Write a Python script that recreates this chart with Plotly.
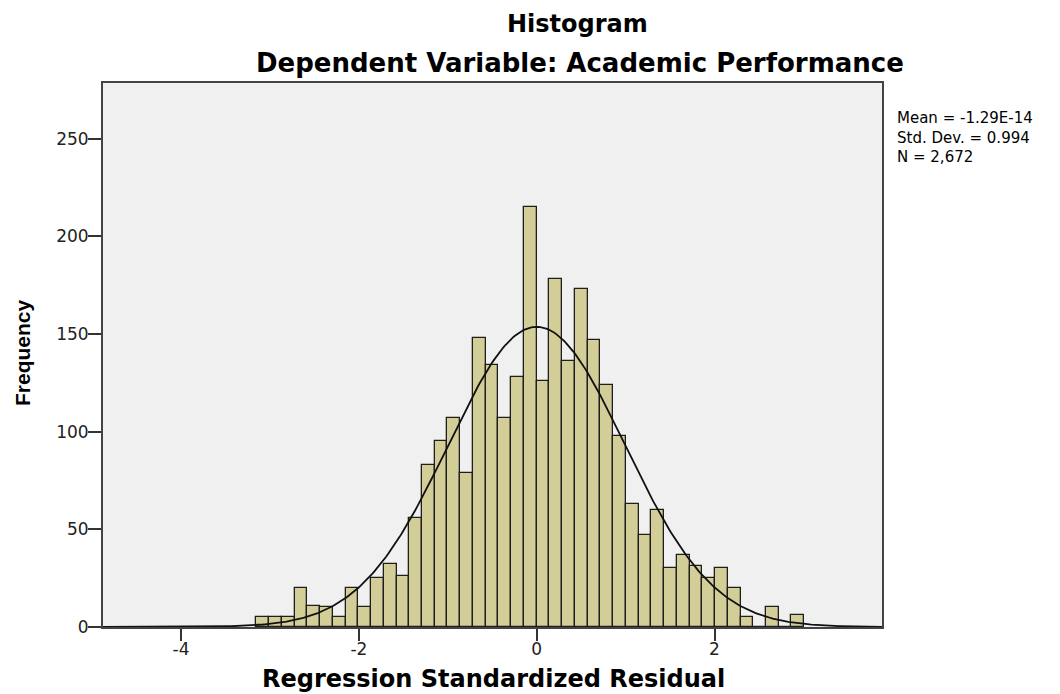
import numpy as np
import plotly.graph_objects as go

# ---- data ----
bin_width = 0.1433
first_edge = -3.153
counts = [5, 5, 5, 20, 11, 10, 5, 20, 10, 25, 32, 26, 56, 83, 95, 107, 79, 148,
          134, 107, 128, 215, 126, 178, 136, 173, 147, 124, 98, 63, 47, 60, 30,
          37, 31, 25, 30, 20, 5, 0, 10, 0, 6]
mean_val = -1.29e-14
std_val = 0.994
n_val = 2672
stats_lines = ["Mean = -1.29E-14", "Std. Dev. = 0.994", "N = 2,672"]
x_ticks = [-4, -2, 0, 2]
y_ticks = [0, 50, 100, 150, 200, 250]
title_text = "Histogram"
subtitle_text = "Dependent Variable: Academic Performance"
x_title = "Regression Standardized Residual"
y_title = "Frequency"

# ---- layout geometry (page pixels; page body has an 8px margin) ----
OFF = 8
W, H = 1060 - OFF, 694 - OFF
L, R, T, B = 103, 882, 83, 627
x_range = [-4.878, 3.884]
y_range = [0, 278.5]

def px(x):
    return (x - L) / (R - L)

def py(y):
    return (B - y) / (B - T)

centers = [first_edge + (i + 0.5) * bin_width for i in range(len(counts))]

fig = go.Figure()
fig.add_trace(go.Bar(
    x=centers, y=counts, width=bin_width,
    marker=dict(color="#D3CE98", line=dict(color="#1e1e1e", width=1.3)),
    hoverinfo="x+y", showlegend=False,
))

xs = np.linspace(x_range[0], x_range[1], 400)
ys = n_val * bin_width * np.exp(-0.5 * ((xs - mean_val) / std_val) ** 2) / (std_val * np.sqrt(2 * np.pi))
fig.add_trace(go.Scatter(x=xs, y=ys, mode="lines",
                         line=dict(color="#111111", width=1.8),
                         hoverinfo="skip", showlegend=False))

tick_font = dict(family="DejaVu Sans", size=17, color="#222222")
fig.update_layout(
    width=W, height=H, autosize=False,
    margin=dict(l=L - OFF, r=W - (R - OFF), t=T - OFF, b=H - (B - OFF), pad=0),
    paper_bgcolor="white", plot_bgcolor="#F0F0F0",
    bargap=0,
    xaxis=dict(range=x_range, tickvals=x_ticks, ticktext=[str(v) for v in x_ticks],
               ticks="outside", ticklen=12, tickwidth=2, tickcolor="#333333",
               showgrid=False, zeroline=False, showline=True, linecolor="#444444",
               linewidth=2, mirror=True, tickfont=tick_font, ticklabelstandoff=-6),
    yaxis=dict(range=y_range, tickvals=y_ticks, ticktext=[str(v) for v in y_ticks],
               ticks="outside", ticklen=13, tickwidth=2, tickcolor="#333333",
               showgrid=False, zeroline=False, showline=True, linecolor="#444444",
               linewidth=2, mirror=True, tickfont=tick_font, ticklabelstandoff=-4),
)

bold = dict(family="DejaVu Sans", color="black")
ann = [
    dict(text=f"<b>{title_text}</b>", x=px(577), y=py(24), font=dict(size=24, **bold)),
    dict(text=f"<b>{subtitle_text}</b>", x=px(580), y=py(63), font=dict(size=26, **bold)),
    dict(text=f"<b>{x_title}</b>", x=px(494), y=py(679), font=dict(size=24, **bold)),
    dict(text=f"<b>{y_title}</b>", x=px(22), y=py(353), textangle=-90,
         font=dict(family="Liberation Sans", size=21, color="black")),
]
for a in ann:
    a.update(xref="paper", yref="paper", showarrow=False, xanchor="center", yanchor="middle")
ann.append(dict(text="<br>".join(stats_lines), x=px(895), y=py(137.5), xref="paper", yref="paper",
                showarrow=False, xanchor="left", yanchor="middle", align="left",
                font=dict(family="DejaVu Sans", size=15, color="black")))
fig.update_layout(annotations=ann)

fig.write_html("out.html")
